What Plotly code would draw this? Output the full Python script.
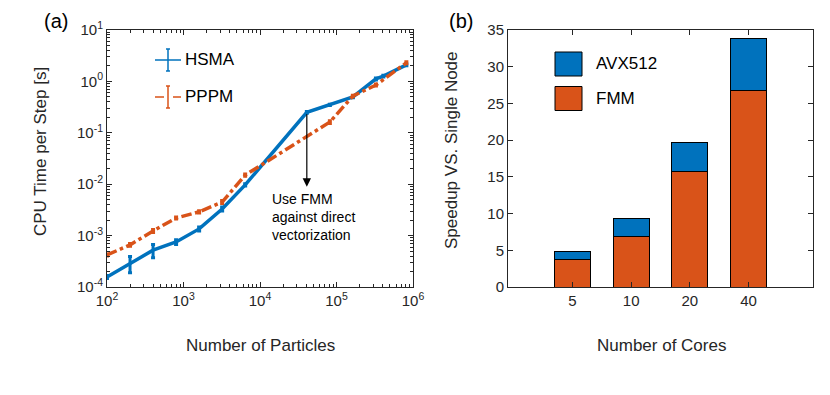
import plotly.graph_objects as go

# (a) CPU time per step vs number of particles
hsma_n = [100, 200, 400, 800, 1600, 3200, 6400, 40960, 81920, 163840, 327680, 409600, 819200]
hsma_t = [1.57e-4, 2.9e-4, 5.2e-4, 7.5e-4, 1.35e-3, 3.3e-3, 9.7e-3, 0.25, 0.35, 0.50, 1.12, 1.27, 2.1]
hsma_err = [0.1e-4, 1.0e-4, 1.5e-4, 0.8e-4, 1.2e-4, 3e-4, 5e-4, 0.01, 0.01, 0.02, 0.05, 0.05, 0.08]

pppm_n = [100, 200, 400, 800, 1600, 3200, 6400, 81920, 163840, 327680, 819200]
pppm_t = [4.2e-4, 6.6e-4, 1.23e-3, 2.2e-3, 2.9e-3, 4.5e-3, 1.5e-2, 0.162, 0.52, 0.85, 2.3]
pppm_err = [0.2e-4, 0.4e-4, 0.8e-4, 1e-4, 1.5e-4, 3e-4, 8e-4, 0.01, 0.02, 0.04, 0.1]

log_ticks_x = [2, 3, 4, 5, 6]
log_ticks_y = [-4, -3, -2, -1, 0, 1]

# (b) speedup vs cores (stacked)
cores = ["5", "10", "20", "40"]
fmm = [3.8, 6.9, 15.7, 26.7]
total = [4.8, 9.3, 19.7, 33.8]
avx = [t - f for t, f in zip(total, fmm)]

BLUE = "#0072BD"
ORANGE = "#D95319"
AX = "#262626"
FONT = "Liberation Sans, Arial, sans-serif"
W, H = 830, 395
OFF = 8  # page body margin


def px_x(px):
    return (px - OFF) / W


def px_y(py):
    return 1 - (py - OFF) / H


fig = go.Figure()

fig.add_trace(go.Scatter(
    x=hsma_n, y=hsma_t, mode="lines", name="HSMA",
    line=dict(color=BLUE, width=3.5),
    error_y=dict(type="data", array=hsma_err, color=BLUE, thickness=3, width=2),
    xaxis="x", yaxis="y", showlegend=False,
))
fig.add_trace(go.Scatter(
    x=pppm_n, y=pppm_t, mode="lines", name="PPPM",
    line=dict(color=ORANGE, width=3.5, dash="dashdot"),
    error_y=dict(type="data", array=pppm_err, color=ORANGE, thickness=3, width=2),
    xaxis="x", yaxis="y", showlegend=False,
))

xpos = list(range(1, len(cores) + 1))
fig.add_trace(go.Bar(
    x=xpos, y=fmm, name="FMM", marker=dict(color=ORANGE, line=dict(color="black", width=1)),
    width=0.61, xaxis="x2", yaxis="y2", showlegend=False,
))
fig.add_trace(go.Bar(
    x=xpos, y=avx, name="AVX512", marker=dict(color=BLUE, line=dict(color="black", width=1)),
    width=0.61, xaxis="x2", yaxis="y2", showlegend=False,
))

axis_common = dict(
    showline=True, linecolor=AX, linewidth=1, mirror="ticks", automargin=False,
    ticks="inside", ticklen=5, tickcolor=AX, showgrid=False, zeroline=False,
    tickfont=dict(family=FONT, size=15, color=AX),
)


def minor_log(decades):
    vals = [k * 10.0 ** e for e in decades[:-1] for k in range(2, 10)]
    return dict(tickvals=vals, ticks="inside", ticklen=3, tickcolor=AX, showgrid=False)


fig.update_layout(
    width=W, height=H,
    margin=dict(l=0, r=0, t=0, b=0),
    paper_bgcolor="white", plot_bgcolor="white",
    barmode="stack",
    xaxis=dict(
        domain=[px_x(107), px_x(413)], type="log", range=[2, 6], anchor="y",
        tickvals=[10.0 ** e for e in log_ticks_x],
        ticktext=[f"10<sup>{e}</sup>" for e in log_ticks_x],
        minor=minor_log(log_ticks_x), **axis_common,
    ),
    yaxis=dict(
        domain=[px_y(287), px_y(30)], type="log", range=[-4, 1], anchor="x",
        tickvals=[10.0 ** e for e in log_ticks_y],
        ticktext=[f"10<sup>{e}</sup>" for e in log_ticks_y],
        minor=minor_log(log_ticks_y), **axis_common,
    ),
    xaxis2=dict(
        domain=[px_x(508), px_x(813)], range=[-0.1, 5.1], anchor="y2",
        tickvals=xpos, ticktext=cores, **axis_common,
    ),
    yaxis2=dict(
        domain=[px_y(287), px_y(30)], range=[0, 35], anchor="x2",
        dtick=5, **axis_common,
    ),
    font=dict(family=FONT, color=AX),
)


def paper_text(text, px, py, size, color=AX, angle=0, xanchor="center", yanchor="middle"):
    fig.add_annotation(text=text, x=px_x(px), y=min(px_y(py), 1), xref="paper", yref="paper",
                       xanchor=xanchor, yanchor=yanchor, showarrow=False, textangle=angle,
                       font=dict(family=FONT, size=size, color=color))


# panel labels and axis titles
paper_text("(a)", 42, 8, 20, "black", xanchor="left", yanchor="top")
paper_text("(b)", 447, 8, 20, "black", xanchor="left", yanchor="top")
paper_text("Number of Particles", 260, 345, 17)
paper_text("Number of Cores", 661, 345, 17)
paper_text("CPU Time per Step [s]", 41, 152, 17, angle=-90)
paper_text("Speedup VS. Single Node", 452, 150, 17, angle=-90)

# arrow from the HSMA jump down to the note
fig.add_annotation(
    x=4.612, y=-2.05, ax=4.612, ay=-0.61, xref="x", yref="y", axref="x", ayref="y",
    showarrow=True, arrowhead=2, arrowsize=1.4, arrowwidth=1.2, arrowcolor="black", text="",
)
fig.add_annotation(
    text="Use FMM<br>against direct<br>vectorization", x=px_x(270), y=px_y(189),
    xref="paper", yref="paper", xanchor="left", yanchor="top", align="left", showarrow=False,
    font=dict(family=FONT, size=14, color="black"),
)


# legends drawn in axis-domain coordinates
def dx(px, x0=107, w=306):
    return (px - x0) / w


def dy(py, y0=30, h=257):
    return 1 - (py - y0) / h


for name, color, dash, py in [("HSMA", BLUE, "solid", 60), ("PPPM", ORANGE, "dash", 97)]:
    fig.add_shape(type="line", xref="x domain", yref="y domain",
                  x0=dx(155), x1=dx(181), y0=dy(py), y1=dy(py),
                  line=dict(color=color, width=1.5, dash=dash))
    fig.add_shape(type="line", xref="x domain", yref="y domain",
                  x0=dx(168), x1=dx(168), y0=dy(py - 11), y1=dy(py + 11),
                  line=dict(color=color, width=1.5))
    for cap in (py - 11, py + 11):
        fig.add_shape(type="line", xref="x domain", yref="y domain",
                      x0=dx(166), x1=dx(170), y0=dy(cap), y1=dy(cap),
                      line=dict(color=color, width=1.5))
    fig.add_annotation(text=name, x=dx(183), y=dy(py), xref="x domain", yref="y domain",
                       xanchor="left", yanchor="middle", showarrow=False,
                       font=dict(family=FONT, size=17, color="black"))

for name, color, py in [("AVX512", BLUE, 64), ("FMM", ORANGE, 98.5)]:
    fig.add_shape(type="rect", xref="x2 domain", yref="y2 domain",
                  x0=dx(555, 508, 305), x1=dx(582, 508, 305),
                  y0=dy(py - 12), y1=dy(py + 12),
                  fillcolor=color, line=dict(color="black", width=1))
    fig.add_annotation(text=name, x=dx(594, 508, 305), y=dy(py), xref="x2 domain", yref="y2 domain",
                       xanchor="left", yanchor="middle", showarrow=False,
                       font=dict(family=FONT, size=17, color="black"))

fig.write_html("out.html")
